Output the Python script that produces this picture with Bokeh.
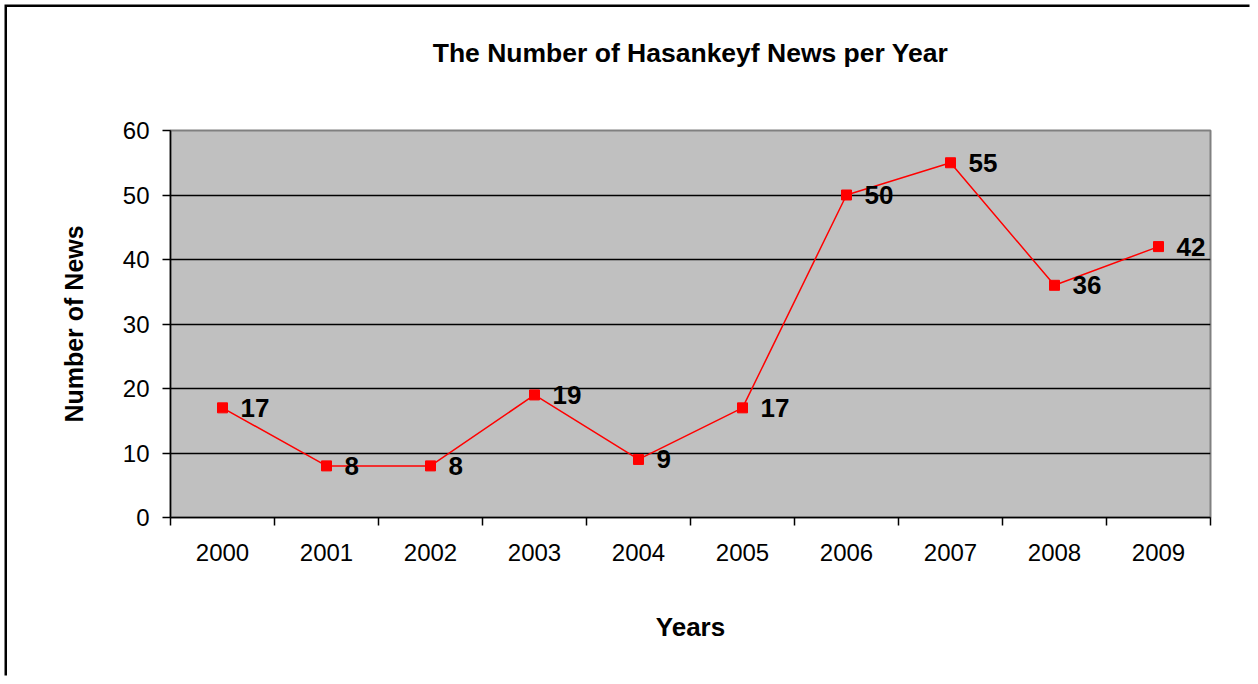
from bokeh.plotting import figure
from bokeh.models import FixedTicker, ColumnDataSource, LabelSet, LinearAxis
from bokeh.core.properties import value
from bokeh.embed import file_html
from bokeh.resources import INLINE

years = ["2000", "2001", "2002", "2003", "2004", "2005", "2006", "2007", "2008", "2009"]
news = [17, 8, 8, 19, 9, 17, 50, 55, 36, 42]
y_ticks = [0, 10, 20, 30, 40, 50, 60]
title_text = "The Number of Hasankeyf News per Year"

FONT = "Liberation Sans"
xs = [i + 0.5 for i in range(len(years))]
src = ColumnDataSource(dict(x=xs, y=news, lbl=[str(v) for v in news]))

OFF = 7
W, H = 1245, 671
FL, FT, FR, FB = 170, 130, 1210, 517
p = figure(width=W, height=H, output_backend="svg", toolbar_location=None,
           x_range=(0, len(years)), y_range=(0, 60),
           min_border_left=FL - OFF, min_border_right=OFF + W - FR, min_border_top=FT - OFF,
           min_border_bottom=OFF + H - FB)
p.styles = {"margin-left": "7px", "margin-top": "7px",
            "box-shadow": "-2.5px -2.5px 0px 0px black"}
p.background_fill_color = "#C0C0C0"
p.border_fill_color = "white"
p.outline_line_color = "#808080"
p.outline_line_width = 2

# chart title drawn as the label of an otherwise empty top axis
title_axis = LinearAxis(ticker=FixedTicker(ticks=[]), axis_line_color=None,
                        major_tick_in=0, major_tick_out=0, minor_tick_in=0, minor_tick_out=0,
                        major_label_text_font_size="0px",
                        axis_label=title_text, axis_label_text_font=FONT,
                        axis_label_text_font_size="26.5px", axis_label_text_font_style="bold",
                        axis_label_text_color="black", axis_label_standoff=63)
p.add_layout(title_axis, "above")

p.line("x", "y", source=src, line_color="#FF0000", line_width=1.5)
p.scatter("x", "y", source=src, marker="square", size=10, fill_color="#FF0000", line_color="#FF0000")
p.add_layout(LabelSet(x="x", y="y", text="lbl", source=src, x_offset=18, y_offset=0,
                      text_baseline="middle", text_align="left", text_font=value(FONT),
                      text_font_size="26px", text_font_style="bold", text_color="black"))

# y axis
yax = p.yaxis[0]
yax.ticker = FixedTicker(ticks=y_ticks)
yax.axis_line_color = "black"
yax.axis_line_width = 1.5
yax.major_tick_in = 0
yax.major_tick_out = 8
yax.major_tick_line_width = 1.5
yax.minor_tick_line_color = None
yax.major_label_text_font = FONT
yax.major_label_text_font_size = "24px"
yax.major_label_text_color = "black"
yax.major_label_standoff = 13
yax.axis_label = "Number of News"
yax.axis_label_text_font = FONT
yax.axis_label_text_font_size = "25px"
yax.axis_label_text_font_style = "bold"
yax.axis_label_text_color = "black"
yax.axis_label_standoff = 32

# x axis: labels at category centres, ticks at boundaries
xax = p.below[0]
xax.ticker = FixedTicker(ticks=xs, minor_ticks=list(range(len(years) + 1)))
xax.major_label_overrides = {x: y for x, y in zip(xs, years)}
xax.major_tick_line_color = None
xax.major_tick_in = 0
xax.major_tick_out = 0
xax.minor_tick_in = 0
xax.minor_tick_out = 8
xax.minor_tick_line_color = "black"
xax.minor_tick_line_width = 1.5
xax.axis_line_color = "black"
xax.axis_line_width = 1.5
xax.major_label_text_font = FONT
xax.major_label_text_font_size = "24px"
xax.major_label_text_color = "black"
xax.major_label_standoff = 18
xax.axis_label = "Years"
xax.axis_label_text_font = FONT
xax.axis_label_text_font_size = "26px"
xax.axis_label_text_font_style = "bold"
xax.axis_label_text_color = "black"
xax.axis_label_standoff = 48

p.xgrid.grid_line_color = None
p.ygrid.ticker = FixedTicker(ticks=y_ticks)
p.ygrid.grid_line_color = "black"
p.ygrid.grid_line_width = 1.5

open("out.html", "w").write(file_html(p, INLINE))
